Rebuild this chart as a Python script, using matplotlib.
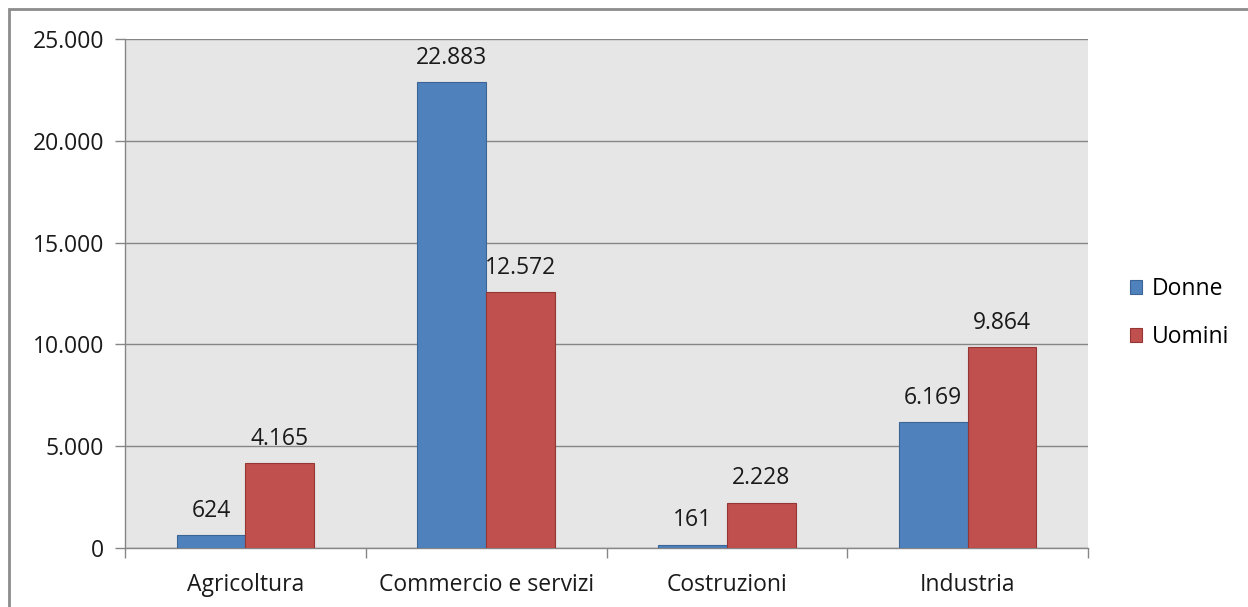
import matplotlib
matplotlib.use("Agg")
import matplotlib.pyplot as plt
from matplotlib.patches import Rectangle
import numpy as np

categories = ["Agricoltura", "Commercio e servizi", "Costruzioni", "Industria"]
donne = [624, 22883, 161, 6169]
uomini = [4165, 12572, 2228, 9864]
series_names = ["Donne", "Uomini"]
y_ticks = [0, 5000, 10000, 15000, 20000, 25000]

plt.rcParams["font.family"] = ["Open Sans", "DejaVu Sans"]

def fmt(v):
    return f"{v:,}".replace(",", ".")

W, H = 1248, 607
fig = plt.figure(figsize=(W / 100, H / 100), dpi=100)
fig.patch.set_facecolor("white")

# chart outer border (top and left visible)
fig.add_artist(Rectangle((9 / W, -0.1), 1.2, (H - 9) / H + 0.1, transform=fig.transFigure,
                         fill=False, edgecolor="#8c8c8c", linewidth=2))

ax = fig.add_axes([125 / W, 1 - 548 / H, (1088 - 125) / W, (548 - 39) / H])
ax.set_facecolor("#e6e6e6")

x = np.arange(len(categories))
bw = 1 / 3.5
blue, red = "#4f81bd", "#c0504d"
b1 = ax.bar(x - bw / 2, donne, bw, color=blue, edgecolor="#3a6594", linewidth=0.8, zorder=3, label=series_names[0])
b2 = ax.bar(x + bw / 2, uomini, bw, color=red, edgecolor="#943634", linewidth=0.8, zorder=3, label=series_names[1])

fs = 16.5
for bars, vals in ((b1, donne), (b2, uomini)):
    for r, v in zip(bars, vals):
        ax.annotate(fmt(v), (r.get_x() + r.get_width() / 2, v), xytext=(0, 9),
                    textcoords="offset points", ha="center", va="bottom",
                    fontsize=fs, color="#1a1a1a")

ax.set_xlim(-0.5, len(categories) - 0.5)
ax.set_ylim(0, 25000)
ax.set_yticks(y_ticks)
ax.set_yticklabels([fmt(t) for t in y_ticks], fontsize=fs, color="#1a1a1a")
ax.yaxis.grid(True, color="#868686", linewidth=1, zorder=0)
ax.set_axisbelow(True)

ax.set_xticks(x)
ax.set_xticklabels(categories, fontsize=fs, color="#1a1a1a")
ax.tick_params(axis="x", length=0, pad=18)
ax.set_xticks(np.arange(-0.5, len(categories)), minor=True)
ax.tick_params(axis="x", which="minor", length=7, color="#868686", width=1)
ax.tick_params(axis="y", length=7, color="#868686", width=1, pad=8)

for s in ("top", "right"):
    ax.spines[s].set_visible(False)
for s in ("left", "bottom"):
    ax.spines[s].set_color("#868686")
    ax.spines[s].set_linewidth(1)

leg = fig.legend(handles=[b1, b2], labels=series_names, loc="center left",
                 bbox_to_anchor=(1109 / W, 1 - 313 / H), frameon=False,
                 fontsize=fs, handlelength=0.55, handleheight=0.55,
                 handletextpad=0.4, labelspacing=1.05)

fig.savefig("out.png", dpi=100)
